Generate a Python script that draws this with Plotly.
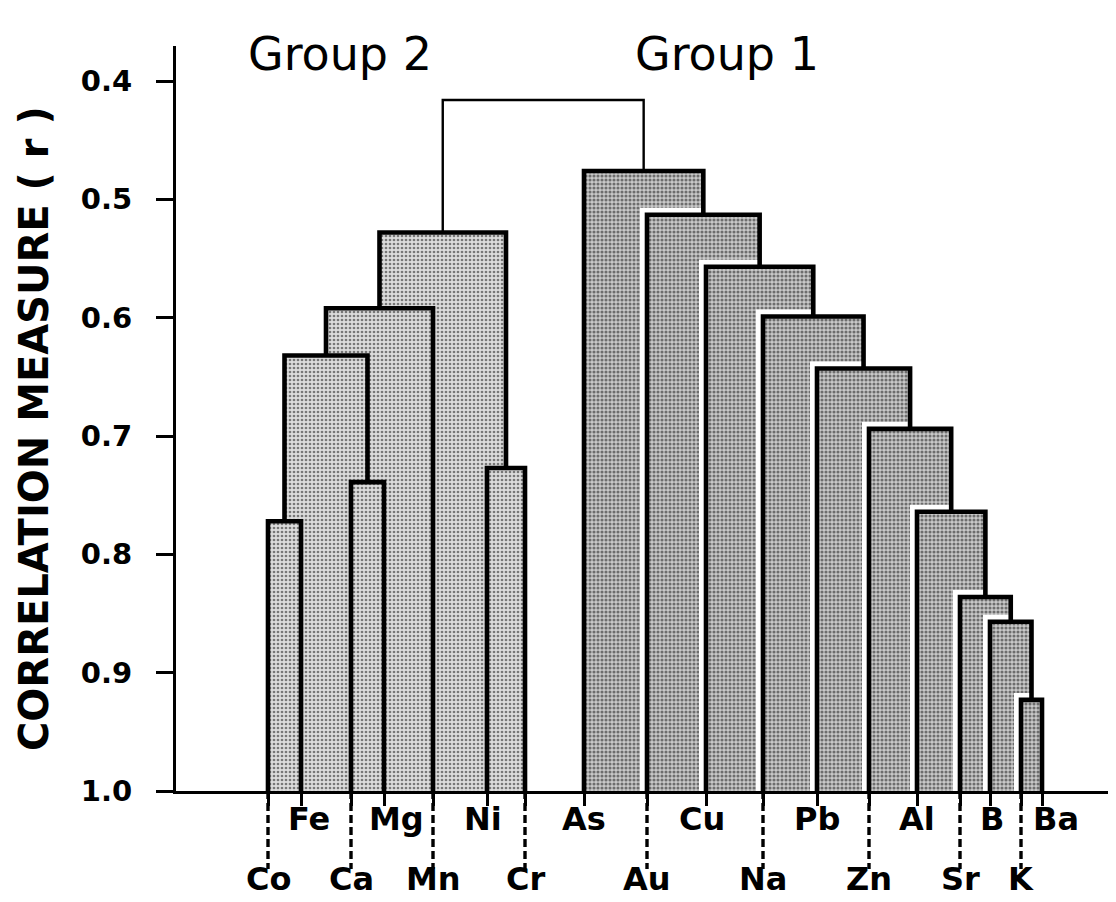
import plotly.graph_objects as go

# ---------------- data ----------------
leaves = ["Co", "Fe", "Ca", "Mg", "Mn", "Ni", "Cr",
          "As", "Au", "Cu", "Na", "Pb", "Zn", "Al", "Sr", "B", "K", "Ba"]
leaf_row = ["lower", "upper", "lower", "upper", "lower", "upper", "lower",
            "upper", "lower", "upper", "lower", "upper", "lower", "upper",
            "lower", "upper", "lower", "upper"]

# linkage (children listed before parents)
merge_names = ["A1", "A2", "A3", "A4", "A5", "A6",
               "B1", "B2", "B3", "B4", "B5", "B6", "B7", "B8", "B9", "B10",
               "TOP"]
merge_left = ["Co", "Ca", "Ni", "A1", "A4", "A5",
              "K", "B", "Sr", "Al", "Zn", "Pb", "Na", "Cu", "Au", "As",
              "A6"]
merge_right = ["Fe", "Mg", "Cr", "A2", "Mn", "A3",
               "Ba", "B1", "B2", "B3", "B4", "B5", "B6", "B7", "B8", "B9",
               "B10"]
merge_height = [0.772, 0.739, 0.727, 0.632, 0.592, 0.528,
                0.923, 0.857, 0.836, 0.764, 0.694, 0.643, 0.599, 0.557, 0.513, 0.476,
                0.416]

group_labels = ["Group 2", "Group 1"]
y_tickvals = [0.4, 0.5, 0.6, 0.7, 0.8, 0.9, 1.0]
y_ticktext = ["0.4", "0.5", "0.6", "0.7", "0.8", "0.9", "1.0"]
y_title = "CORRELATION MEASURE ( r )"

# ---------------- layout (positions / styles) ----------------
leaf_x = [260, 293, 343, 376, 425, 479, 517,
          576, 639, 698, 755, 809, 861, 909, 952, 982, 1013, 1034]
label_dx = {"Fe": 8, "Mg": 12, "Ni": -4, "Cu": -4, "B": 2, "Ba": 14}
group_label_x = [332, 719]

W, H = 1116, 902
L, T, B = 168, 38, 119
plot_h = H - T - B
y_top = 0.37042
BASE = 1.0
px_per_unit = plot_h / (BASE - y_top)


def py_to_paper(py):
    return (H - B - py) / plot_h


def py_to_y(py):
    return y_top + (py - T) / px_per_unit


FONT = "DejaVu Sans"

pos = dict(zip(leaves, leaf_x))
hgt = {name: BASE for name in leaves}
children = {}
for n, l, r, h in zip(merge_names, merge_left, merge_right, merge_height):
    pos[n] = (pos[l] + pos[r]) / 2.0
    hgt[n] = h
    children[n] = (l, r)


def descendants(node):
    out = []
    if node in children:
        for c in children[node]:
            out.append(c)
            out.extend(descendants(c))
    return out


root = merge_names[-1]
group1_root = children[root][1]
halo_nodes = set(d for d in descendants(group1_root) if d in children)
group1_nodes = halo_nodes | {group1_root}

fig = go.Figure()

order = sorted(range(len(merge_names)), key=lambda i: merge_height[i])

# fills (and white halos for group 1 nested boxes)
for i in order:
    n = merge_names[i]
    if n == root:
        continue
    l, r = children[n]
    xl, xr, h = pos[l], pos[r], hgt[n]
    if n in halo_nodes:
        fig.add_trace(go.Scatter(
            x=[xl, xl, xr, xr], y=[hgt[l], h, h, hgt[r]], mode="lines",
            line=dict(color="white", width=14), hoverinfo="skip", showlegend=False))
    dark = n in group1_nodes
    fig.add_trace(go.Scatter(
        x=[xl, xl, xr, xr, xl], y=[BASE, h, h, BASE, BASE], mode="lines",
        fill="toself", line=dict(width=0, color="rgba(0,0,0,0)"),
        fillcolor="#c8c8c8" if dark else "#d8d8d8",
        fillpattern=dict(shape=".", fgcolor="#111111",
                         bgcolor="#c9c9c9" if dark else "#dcdcdc",
                         size=4, solidity=0.47 if dark else 0.37),
        hoverinfo="skip", showlegend=False))

# outlines
for i in order:
    n = merge_names[i]
    l, r = children[n]
    xl, xr, h = pos[l], pos[r], hgt[n]
    fig.add_trace(go.Scatter(
        x=[xl, xl, xr, xr], y=[hgt[l], h, h, hgt[r]], mode="lines",
        line=dict(color="black", width=2.4 if n == root else 4.6),
        hoverinfo="skip", showlegend=False))

shapes = []
annotations = []
for name, x, row in zip(leaves, leaf_x, leaf_row):
    if row == "lower":
        shapes.append(dict(type="line", xref="x", yref="paper", x0=x, x1=x,
                           y0=py_to_paper(H - B), y1=py_to_paper(861),
                           line=dict(color="black", width=3.4, dash="8px,4px")))
        ly = py_to_paper(871)
    else:
        ly = py_to_paper(811)
    annotations.append(dict(text=name, xref="x", yref="paper", x=x + label_dx.get(name, 0),
                            y=ly, xanchor="center", yanchor="middle", showarrow=False,
                            font=dict(family=FONT, size=32, color="black", weight="bold")))

for txt, gx in zip(group_labels, group_label_x):
    annotations.append(dict(text=txt, xref="x", yref="y", x=gx, y=py_to_y(46),
                            xanchor="center", yanchor="middle", showarrow=False,
                            font=dict(family=FONT, size=46, color="black")))

annotations.append(dict(text=y_title, xref="paper", yref="y",
                        x=(26 - L) / (W - L), y=py_to_y(421), textangle=-90,
                        xanchor="center", yanchor="middle", showarrow=False,
                        font=dict(family=FONT, size=40, color="black", weight="bold")))

fig.update_layout(
    width=W, height=H,
    margin=dict(l=L, r=0, t=T, b=B, pad=0),
    paper_bgcolor="white", plot_bgcolor="white",
    showlegend=False,
    shapes=shapes, annotations=annotations,
    xaxis=dict(range=[L, W], showgrid=False, zeroline=False,
               showline=True, linecolor="black", linewidth=3,
               ticks="outside", tickvals=leaf_x, ticklen=12, tickwidth=3.2,
               tickcolor="black", showticklabels=False, fixedrange=True),
    yaxis=dict(range=[BASE, y_top], autorange=False, showgrid=False, zeroline=False,
               showline=True, linecolor="black", linewidth=3,
               ticks="outside", tickvals=y_tickvals, ticktext=y_ticktext,
               ticklen=17, tickwidth=2.6, tickcolor="black", ticklabelstandoff=18,
               tickfont=dict(family=FONT, size=29, color="black", weight="bold"),
               fixedrange=True),
)

fig.write_html("out.html")
